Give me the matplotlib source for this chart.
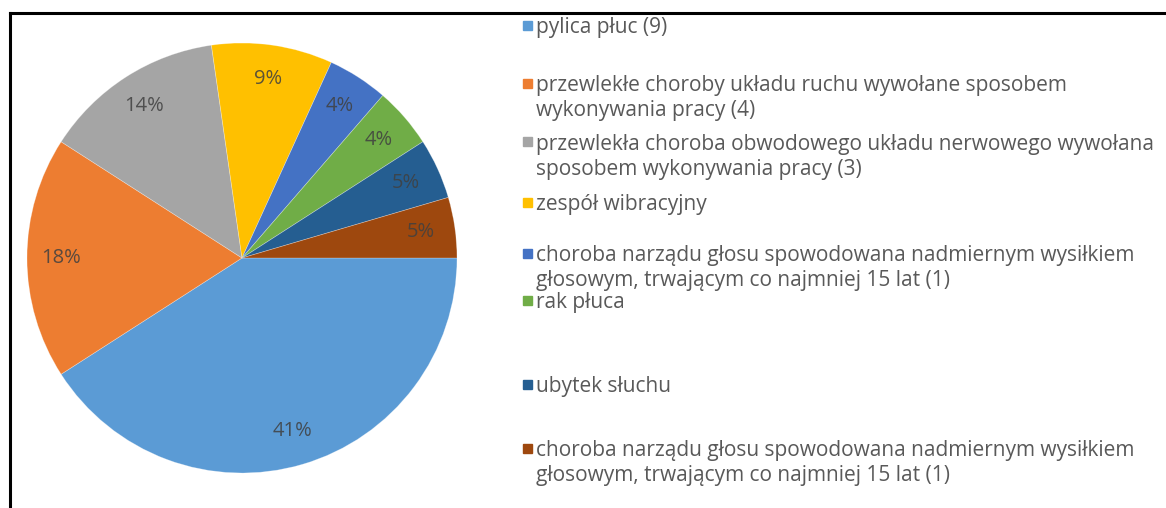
import matplotlib
matplotlib.use("Agg")
import matplotlib.pyplot as plt
from matplotlib.patches import Rectangle
from matplotlib.lines import Line2D

plt.rcParams["font.family"] = ["Open Sans", "DejaVu Sans"]

# data
COUNTS = [9, 4, 3, 2, 1, 1, 1, 1]
PCT_LABELS = ["41%", "18%", "14%", "9%", "4%", "4%", "5%", "5%"]
COLORS = ["#5B9BD5", "#ED7D31", "#A5A5A5", "#FFC000",
          "#4472C4", "#70AD47", "#255E91", "#9E480E"]
LEGEND = [
    "pylica płuc (9)",
    "przewlekłe choroby układu ruchu wywołane sposobem\nwykonywania pracy (4)",
    "przewlekła choroba obwodowego układu nerwowego wywołana\nsposobem wykonywania pracy (3)",
    "zespół wibracyjny",
    "choroba narządu głosu spowodowana nadmiernym wysiłkiem\ngłosowym, trwającym co najmniej 15 lat (1)",
    "rak płuca",
    "ubytek słuchu",
    "choroba narządu głosu spowodowana nadmiernym wysiłkiem\ngłosowym, trwającym co najmniej 15 lat (1)",
]
# vertical centre of each legend entry's first line (pixels from the top)
LEGEND_Y = [25, 83, 142, 202, 253, 300, 384, 448]
LINE_STEP = 25

W, H = 1166, 508
fig = plt.figure(figsize=(W / 100, H / 100), dpi=100)
fig.patch.set_facecolor("white")

cx, cy, r = 242, 258, 215
ax = fig.add_axes([(cx - r) / W, (H - cy - r) / H, 2 * r / W, 2 * r / H])
wedges, texts, autotexts = ax.pie(
    COUNTS, colors=COLORS, startangle=0, counterclock=False,
    labels=None, autopct="%1.0f%%", pctdistance=0.84, radius=1,
    wedgeprops=dict(linewidth=0.5, edgecolor=(1, 1, 1, 0.35)),
)
for t, lab in zip(autotexts, PCT_LABELS):
    t.set_text(lab)
    t.set_color("#404040")
    t.set_fontsize(14.5)
    t.set_alpha(0.85)
ax.set_xlim(-1, 1)
ax.set_ylim(-1, 1)
ax.set_aspect("equal")
ax.axis("off")

# legend: coloured squares plus wrapped text
for yc, text, color in zip(LEGEND_Y, LEGEND, COLORS):
    for i, line in enumerate(text.split("\n")):
        fig.text(536 / W, 1 - (yc + i * LINE_STEP) / H, line, color="#595959",
                 fontsize=15, va="center_baseline", ha="left")
    fig.patches.append(Rectangle((523 / W, 1 - (yc + 4.5) / H), 9 / W, 9 / H,
                                 transform=fig.transFigure, color=color, zorder=3))

# frame lines at top and left
fig.add_artist(Line2D([10 / W, 1], [1 - 13 / H, 1 - 13 / H], color="black", lw=2.2,
                      transform=fig.transFigure))
fig.add_artist(Line2D([10 / W, 10 / W], [0, 1 - 13 / H], color="black", lw=2.2,
                      transform=fig.transFigure))

fig.savefig("out.png", dpi=100, facecolor="white")
